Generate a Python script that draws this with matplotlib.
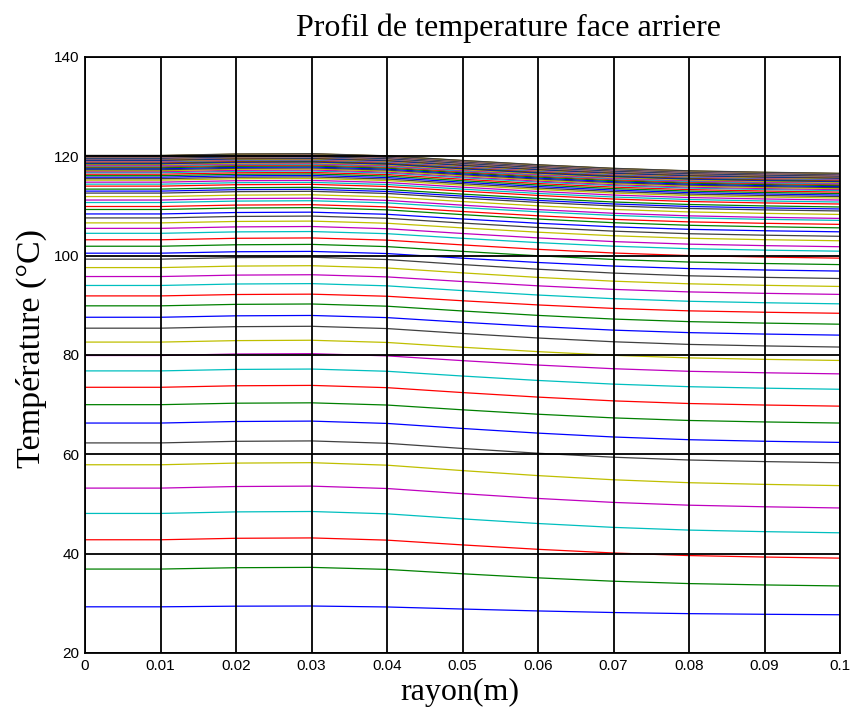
import matplotlib
matplotlib.use("Agg")
import matplotlib.pyplot as plt
import numpy as np

# Radius nodes (m) and common profile shape (fraction of edge drop)
radius = [0.0, 0.01, 0.02, 0.03, 0.04, 0.05, 0.06, 0.07, 0.08, 0.09, 0.10]
drop_shape = [0.0, 0.0, -0.08, -0.10, 0.02, 0.28, 0.52, 0.72, 0.86, 0.94, 1.0]

# Temperature at centre (r = 0) for each time step, deg C
T_center = [29.3, 36.9, 42.8, 48.1, 53.2, 57.9, 62.3, 66.3, 70.0, 73.5,
            76.8, 79.9, 82.6, 85.4, 87.6, 89.9, 91.9, 94.0, 95.8, 97.6,
            99.3, 100.5, 101.9, 103.2, 104.5, 105.5, 106.6, 107.6, 108.4, 109.3,
            109.9, 110.7, 111.2, 111.9, 112.6, 113.0, 113.4, 114.0, 114.4, 114.8,
            115.2, 115.5, 115.8, 116.1, 116.4, 116.7, 116.9, 117.1, 117.3, 117.5,
            117.7, 117.9, 118.05, 118.2, 118.35, 118.5, 118.6, 118.7, 118.8, 118.9,
            119.0, 119.1, 119.2, 119.27, 119.34, 119.41, 119.48, 119.55, 119.6, 119.65,
            119.7, 119.75, 119.8, 119.84, 119.88, 119.92, 119.96, 120.0, 120.03, 120.06,
            120.09, 120.12, 120.15, 120.18]

# Drop between centre and edge (r = 0.1) for each time step, deg C
T_drop = [1.6, 3.4, 3.7, 3.9, 4.0, 4.2, 4.0, 3.9, 3.7, 3.8,
          3.7, 3.7, 3.7, 3.8, 3.6, 3.7, 3.5, 3.7, 3.6, 3.8,
          3.9, 3.6, 3.7, 3.7, 3.6, 3.7, 3.6, 3.7, 3.6, 3.7,
          3.6, 3.6, 3.7, 3.6, 3.6, 3.6, 3.6, 3.6, 3.6, 3.6,
          3.6, 3.6, 3.6, 3.6, 3.6, 3.6, 3.6, 3.6, 3.6, 3.6,
          3.6, 3.6, 3.6, 3.6, 3.6, 3.6, 3.6, 3.6, 3.6, 3.6,
          3.6, 3.6, 3.6, 3.6, 3.6, 3.6, 3.6, 3.6, 3.6, 3.6,
          3.6, 3.6, 3.6, 3.6, 3.6, 3.6, 3.6, 3.6, 3.6, 3.6,
          3.6, 3.6, 3.6, 3.6]

line_colors = [(0, 0, 1), (0, 0.5, 0), (1, 0, 0), (0, 0.75, 0.75),
               (0.75, 0, 0.75), (0.75, 0.75, 0), (0.25, 0.25, 0.25)]

x_ticks = [0, 0.01, 0.02, 0.03, 0.04, 0.05, 0.06, 0.07, 0.08, 0.09, 0.1]
x_ticklabels = ["0", "0.01", "0.02", "0.03", "0.04", "0.05", "0.06", "0.07", "0.08", "0.09", "0.1"]
y_ticks = [20, 40, 60, 80, 100, 120, 140]

fig = plt.figure(figsize=(8.56, 7.2), dpi=100)
ax = fig.add_axes([85/856, 1 - 653/720, (840 - 85)/856, (653 - 57)/720])

shape = np.array(drop_shape)
for i, (t0, dt) in enumerate(zip(T_center, T_drop)):
    ax.plot(radius, t0 - dt * shape, color=line_colors[i % 7], lw=0.9)

ax.set_xlim(0, 0.1)
ax.set_ylim(20, 140)
ax.set_xticks(x_ticks)
ax.set_xticklabels(x_ticklabels)
ax.set_yticks(y_ticks)
ax.set_axisbelow(False)
ax.grid(True, color="black", lw=1.3, ls="-")
ax.tick_params(direction="in", length=0, labelsize=11, pad=4)
for lab in ax.get_xticklabels() + ax.get_yticklabels():
    lab.set_family("Liberation Sans")
for sp in ax.spines.values():
    sp.set_linewidth(1.3)

serif = "Liberation Serif"
fig.text(508/856, 1 - 28/720, "Profil de temperature face arriere",
         ha="center", va="center", fontsize=23, family=serif)
fig.text(460/856, 1 - 692/720, "rayon(m)", ha="center", va="center",
         fontsize=23, family=serif)
fig.text(31/856, 1 - 348/720, "Température (°C)", ha="center", va="center",
         rotation=90, fontsize=24.5, family=serif)

fig.savefig("out.png", dpi=100)
